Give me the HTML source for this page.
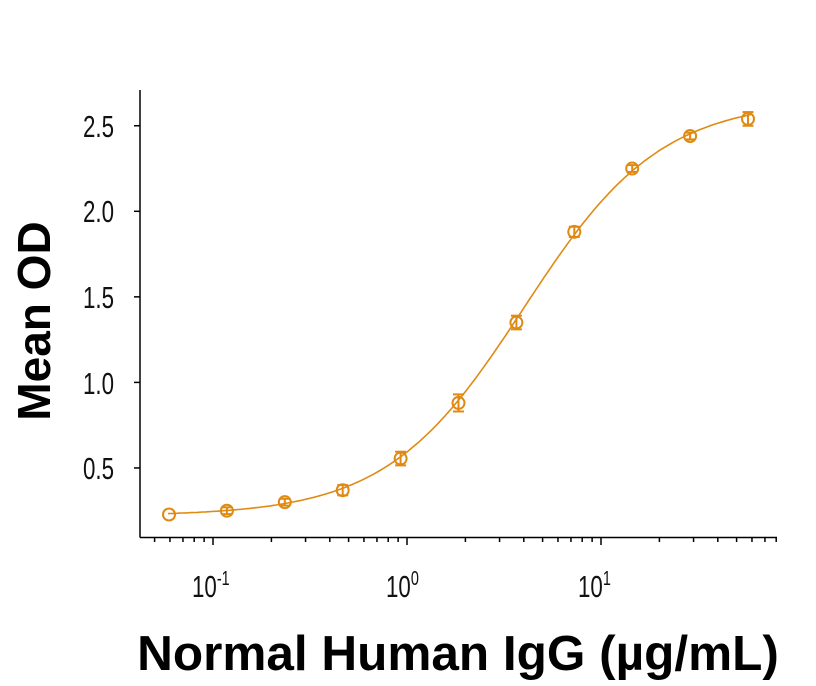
<!DOCTYPE html>
<html><head><meta charset="utf-8"><style>
body{margin:0;background:#fff;width:816px;height:686px;overflow:hidden}
svg{display:block}
.t{font-family:"Liberation Sans",sans-serif;font-size:31px;fill:#111}
.b{font-family:"Liberation Sans",sans-serif;font-weight:bold;fill:#000}
</style></head><body>
<svg id="s" width="816" height="686" viewBox="0 0 816 686" xmlns="http://www.w3.org/2000/svg">
<g stroke="#000" stroke-width="1.5" fill="none">
<line x1="140" y1="90" x2="140" y2="537.5"/>
<line x1="140" y1="537.5" x2="777" y2="537.5"/>
<g id="yt"></g><g id="xt"></g>
</g>
<g class="t" text-anchor="end">
<text x="114" y="137" transform="scale(0.72,1)" transform-origin="114 137">2.5</text>
<text x="114" y="222" transform="scale(0.72,1)" transform-origin="114 222">2.0</text>
<text x="114" y="308" transform="scale(0.72,1)" transform-origin="114 308">1.5</text>
<text x="114" y="394" transform="scale(0.72,1)" transform-origin="114 394">1.0</text>
<text x="114" y="479" transform="scale(0.72,1)" transform-origin="114 479">0.5</text>
</g>
<g class="t">
<text x="192" y="597" transform="scale(0.72,1)" transform-origin="192 597">10<tspan dy="-12" font-size="20">-1</tspan></text>
<text x="386" y="597" transform="scale(0.72,1)" transform-origin="386 597">10<tspan dy="-12" font-size="20">0</tspan></text>
<text x="578" y="597" transform="scale(0.72,1)" transform-origin="578 597">10<tspan dy="-12" font-size="20">1</tspan></text>
</g>
<text class="b" x="458" y="670" font-size="49.5" text-anchor="middle">Normal Human IgG (µg/mL)</text>
<text class="b" x="0" y="0" font-size="46" text-anchor="middle" transform="translate(50,321) rotate(-90)">Mean OD</text>
<path id="curve" fill="none" stroke="#E08A12" stroke-width="1.6"/>
<g id="pts" fill="none" stroke="#E08A12" stroke-width="2"></g>
</svg>
<script>
var X=function(c){return 213+(Math.log10(c)+1)*194;};
var Y=function(v){return 553.5-v*171.1;};
var ns="http://www.w3.org/2000/svg";
function ln(g,a,b,c,d){var l=document.createElementNS(ns,"line");l.setAttribute("x1",a);l.setAttribute("y1",b);l.setAttribute("x2",c);l.setAttribute("y2",d);g.appendChild(l);}
var yt=document.getElementById("yt");
[0.5,1,1.5,2,2.5].forEach(function(v){ln(yt,134,Y(v),140,Y(v));});
var xt=document.getElementById("xt");
for(var e=-2;e<=1;e++)for(var m=1;m<10;m++){var c=m*Math.pow(10,e);var x=X(c);if(x<145||x>777)continue;ln(xt,x,537.5,x,m==1?545:542);}
function f(c){return 0.22+2.43/(1+Math.pow(4/c,1.23));}
var d="";for(var i=0;i<=200;i++){var lc=Math.log10(0.0586)+i*(Math.log10(60)-Math.log10(0.0586))/200;var c=Math.pow(10,lc);d+=(i?"L":"M")+X(c).toFixed(1)+","+Y(f(c)).toFixed(1);}
document.getElementById("curve").setAttribute("d",d);
var vals=[0.228,0.25,0.30,0.37,0.555,0.88,1.35,1.88,2.25,2.44,2.54];
var errs=[0.01,0.02,0.02,0.03,0.04,0.05,0.04,0.03,0.02,0.02,0.04];
var pg=document.getElementById("pts");
vals.forEach(function(v,i){var x=169+i*57.9,y=Y(v),e=errs[i]*171;
var ci=document.createElementNS(ns,"circle");ci.setAttribute("cx",x);ci.setAttribute("cy",y);ci.setAttribute("r",6);pg.appendChild(ci);
if(e>3){ln(pg,x,y-e,x,y+e);ln(pg,x-5.5,y-e,x+5.5,y-e);ln(pg,x-5.5,y+e,x+5.5,y+e);}});
</script>
</body></html>
